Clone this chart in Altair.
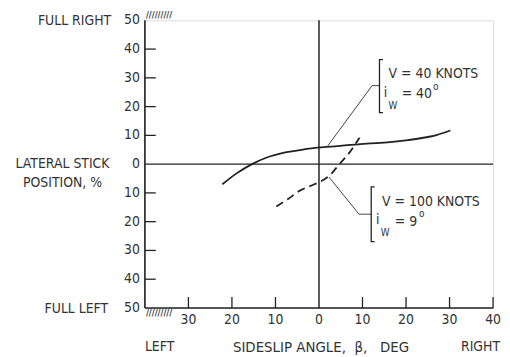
import altair as alt
import pandas as pd

# ---- data ----
solid_x = [-22.2, -19.0, -15.4, -12.0, -8.0, -4.0, 0.0, 4.3, 9.0, 15.7, 20.0, 23.3, 27.0, 30.2]
solid_y = [-7.0, -3.3, 0.0, 2.3, 4.0, 5.0, 5.8, 6.3, 6.9, 7.6, 8.3, 9.0, 10.1, 11.7]

dash_x = [-9.8, -7.0, -4.4, -2.0, 0.0, 2.4, 4.7, 7.0, 9.3]
dash_y = [-14.7, -12.0, -9.2, -7.6, -6.3, -4.0, 0.0, 4.0, 9.2]

x_tick_values = [-30, -20, -10, 10, 20, 30, 40]
x_label_values = [-30, -20, -10, 0, 10, 20, 30, 40]
y_tick_values = [-40, -30, -20, -10, 10, 20, 30, 40]
y_label_values = [-50, -40, -30, -20, -10, 0, 10, 20, 30, 40, 50]

# annotation leaders / brackets (data units)
lead40_x = [1.9, 12.2, 13.9]
lead40_y = [6.1, 27.3, 27.3]
lead100_x = [2.3, 9.2, 12.0]
lead100_y = [-4.5, -17.4, -17.4]
brk40_x = [14.7, 13.9, 13.9, 14.7]
brk40_y = [36.3, 36.3, 17.9, 17.9]
brk100_x = [12.8, 12.0, 12.0, 12.8]
brk100_y = [-7.9, -7.9, -26.9, -26.9]

ann_text = ["V = 40 KNOTS", "i", "W", "= 40", "o",
            "V = 100 KNOTS", "i", "W", "= 9", "o"]
ann_x = [16.0, 14.9, 16.0, 19.0, 26.2, 14.5, 13.1, 14.2, 17.4, 23.0]
ann_y = [31.4, 24.8, 20.3, 24.5, 26.8, -13.3, -19.5, -24.1, -20.0, -17.4]
ann_size = [14, 14, 10, 14, 10, 14, 14, 10, 14, 10]

FONT = "DejaVu Sans Condensed, Liberation Sans Narrow, Roboto Condensed, DejaVu Sans"
INK = "#222222"
TXT = "#333333"

xs = alt.Scale(domain=[-40, 40], nice=False, zero=False)
ys = alt.Scale(domain=[-50, 50], nice=False, zero=False)


def X(field, **kw):
    return alt.X(field, scale=xs, axis=None, **kw)


def Y(field, **kw):
    return alt.Y(field, scale=ys, axis=None, **kw)


solid = pd.DataFrame({"x": solid_x, "y": solid_y, "o": range(len(solid_x))})
dashed = pd.DataFrame({"x": dash_x, "y": dash_y, "o": range(len(dash_x))})

base = alt.Chart(pd.DataFrame({"x": [0], "y": [0]}))

# frame: left and bottom axis lines, centre cross lines
left_axis = base.mark_rule(color=INK, strokeWidth=1.6).encode(
    x=alt.X(datum=-40, scale=xs, axis=None), y=alt.Y(datum=-50, scale=ys, axis=None),
    y2=alt.datum(50))
bottom_axis = base.mark_rule(color=INK, strokeWidth=1.6).encode(
    y=alt.Y(datum=-50, scale=ys, axis=None), x=alt.X(datum=-40, scale=xs, axis=None),
    x2=alt.datum(40))
vline = base.mark_rule(color=INK, strokeWidth=1.5).encode(
    x=alt.X(datum=0, scale=xs, axis=None), y=alt.Y(datum=-50, scale=ys, axis=None),
    y2=alt.datum(50))
hline = base.mark_rule(color=INK, strokeWidth=1.3).encode(
    y=alt.Y(datum=0, scale=ys, axis=None), x=alt.X(datum=-40, scale=xs, axis=None),
    x2=alt.datum(40))

yt = pd.DataFrame({"v": y_tick_values})
yticks = alt.Chart(yt).transform_calculate(x0="-40", x1="-37.5").mark_rule(
    color=INK, strokeWidth=1.3).encode(y=Y("v:Q"), x=X("x0:Q"), x2="x1:Q")

yl = pd.DataFrame({"v": y_label_values})
ylabels = alt.Chart(yl).transform_calculate(
    x0="-40", lab="format(abs(datum.v), 'd')").mark_text(
    align="right", baseline="middle", dx=-5, font=FONT, fontSize=14, color=TXT).encode(
    y=Y("v:Q"), x=X("x0:Q"), text="lab:N")

xt = pd.DataFrame({"v": x_tick_values})
xticks = alt.Chart(xt).transform_calculate(y0="-50", y1="-46.2").mark_rule(
    color=INK, strokeWidth=1.3).encode(x=X("v:Q"), y=Y("y0:Q"), y2="y1:Q")

xl = pd.DataFrame({"v": x_label_values})
xlabels = alt.Chart(xl).transform_calculate(
    y0="-50", lab="format(abs(datum.v), 'd')").mark_text(
    align="center", baseline="middle", dy=12, font=FONT, fontSize=14, color=TXT).encode(
    x=X("v:Q"), y=Y("y0:Q"), text="lab:N")

solid_line = alt.Chart(solid).mark_line(
    color=INK, strokeWidth=1.8, interpolate="monotone").encode(
    x=X("x:Q"), y=Y("y:Q"), order="o:Q")

dashed_line = alt.Chart(dashed).mark_line(
    color=INK, strokeWidth=1.8, strokeDash=[8, 5], interpolate="monotone").encode(
    x=X("x:Q"), y=Y("y:Q"), order="o:Q")

rows = []
for g, (lx, ly) in enumerate([(lead40_x, lead40_y), (lead100_x, lead100_y)]):
    for i, (a, b) in enumerate(zip(lx, ly)):
        rows.append({"g": f"l{g}", "o": i, "x": a, "y": b})
leaders = alt.Chart(pd.DataFrame(rows)).mark_line(
    color="#444444", strokeWidth=1.0).encode(
    x=X("x:Q"), y=Y("y:Q"), detail="g:N", order="o:Q")

rows = []
for g, (lx, ly) in enumerate([(brk40_x, brk40_y), (brk100_x, brk100_y)]):
    for i, (a, b) in enumerate(zip(lx, ly)):
        rows.append({"g": f"b{g}", "o": i, "x": a, "y": b})
brackets = alt.Chart(pd.DataFrame(rows)).mark_line(
    color=INK, strokeWidth=1.3).encode(
    x=X("x:Q"), y=Y("y:Q"), detail="g:N", order="o:Q")

ann = pd.DataFrame({"t": ann_text, "x": ann_x, "y": ann_y, "s": ann_size})
ann_marks = alt.Chart(ann).mark_text(
    align="left", baseline="middle", font=FONT, color=TXT).encode(
    x=X("x:Q"), y=Y("y:Q"), text="t:N", size=alt.Size("s:Q", scale=None))


def label(text, x, y, align, dx, dy, size=14, baseline="middle", **kw):
    return base.mark_text(text=text, align=align, baseline=baseline, dx=dx, dy=dy,
                          font=FONT, fontSize=size, color=TXT, **kw).encode(
        x=alt.X(datum=x, scale=xs, axis=None), y=alt.Y(datum=y, scale=ys, axis=None))


labels = [
    label("FULL RIGHT", -40, 50, "right", -34, 1),
    label(["LATERAL STICK", "POSITION, %"], -40, 0, "center", -83, 0, lineHeight=19),
    label("FULL LEFT", -40, -50, "right", -37, 1),
    label("LEFT", -40, -50, "left", 0, 39),
    label("SIDESLIP\u00a0ANGLE,\u00a0\u00a0\u03b2,\u00a0\u00a0\u00a0DEG", 0, -50, "center", 2, 39,
          size=15),
    label("RIGHT", 40, -50, "right", 7, 39),
    label("/////////", -40, 50, "left", 1, 0, size=9, baseline="bottom", fontWeight="bold"),
    label("/////////", -40, -50, "left", 1, 1, size=9, baseline="top", fontWeight="bold"),
]

chart = alt.layer(
    hline, vline, left_axis, bottom_axis, yticks, ylabels, xticks, xlabels,
    solid_line, dashed_line, leaders, brackets, ann_marks, *labels
).properties(width=351, height=290, padding={"left": 7, "top": 2, "right": 0, "bottom": 0}
).configure_view(stroke=None).configure(background="white")

chart.save("out.html", embed_options={"renderer": "svg", "actions": False})
